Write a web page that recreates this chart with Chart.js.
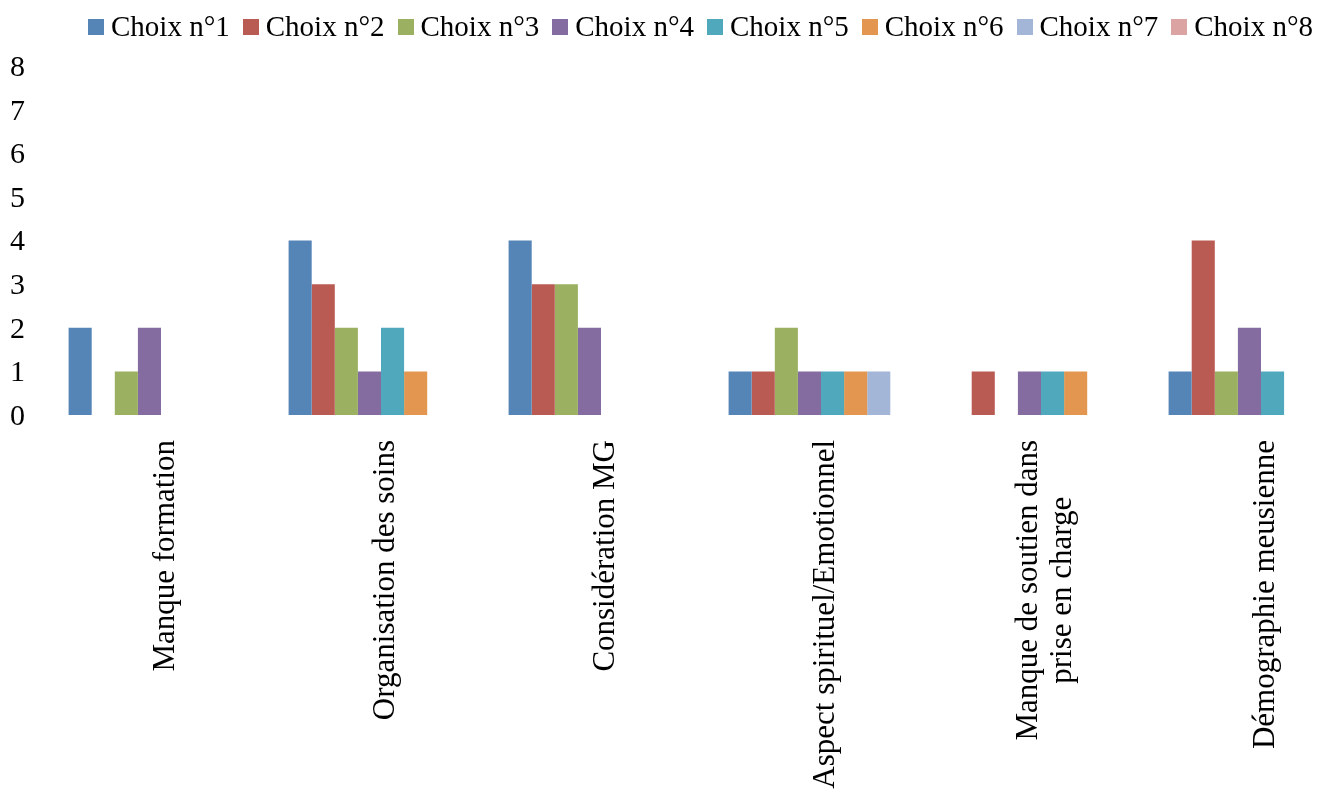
<!DOCTYPE html>
<html lang="fr">
<head>
<meta charset="utf-8">
<title>Choix</title>
<script src="https://cdn.jsdelivr.net/npm/chart.js@4/dist/chart.umd.min.js"></script>
<style>
  html, body {
    margin: 0;
    padding: 0;
    background: #ffffff;
    overflow: hidden;
  }
  body {
    position: relative;
    width: 1317px;
    height: 798px;
  }
  .bar-chart {
    position: absolute;
    left: 0;
    top: 0;
    width: 1371px;
    height: 798px;
  }
  .bar-chart__legend {
    position: absolute;
    top: 10px;
    right: 4px;
    display: flex;
    align-items: center;
    font-family: 'Liberation Serif', serif;
    font-size: 29px;
    color: #000000;
    white-space: nowrap;
  }
  .bar-chart__item {
    display: flex;
    align-items: center;
    margin-left: 13px;
  }
  .bar-chart__item:first-child {
    margin-left: 0;
  }
  .bar-chart__box {
    width: 16px;
    height: 16px;
    margin-right: 7px;
  }
</style>
</head>
<body>
<div class="bar-chart">
  <canvas width="1371" height="798"></canvas>
</div>
<script>
const categories = [
  'Manque formation',
  'Organisation des soins',
  'Considération MG',
  'Aspect spirituel/Emotionnel',
  ['Manque de soutien dans', 'prise en charge'],
  'Démographie meusienne'
]
const seriesNames = ['Choix n°1', 'Choix n°2', 'Choix n°3', 'Choix n°4', 'Choix n°5', 'Choix n°6', 'Choix n°7', 'Choix n°8']
const choix1 = [2, 4, 4, 1, 0, 1]
const choix2 = [0, 3, 3, 1, 1, 4]
const choix3 = [1, 2, 3, 2, 0, 1]
const choix4 = [2, 1, 2, 1, 1, 2]
const choix5 = [0, 2, 0, 1, 1, 1]
const choix6 = [0, 1, 0, 1, 1, 0]
const choix7 = [0, 0, 0, 1, 0, 0]
const choix8 = [0, 0, 0, 0, 0, 0]
const yTicks = [0, 1, 2, 3, 4, 5, 6, 7, 8]

const seriesValues = [choix1, choix2, choix3, choix4, choix5, choix6, choix7, choix8]
const colors = ['#5584B7', '#B95B53', '#9BB061', '#846CA0', '#4FA8BC', '#E3964F', '#A3B6D8', '#DBA3A2']
const fontFamily = '\'Liberation Serif\', serif'

const holder = document.querySelector('.bar-chart')
const canvas = holder.querySelector('canvas')

function buildLegend() {
  let legendElement = document.querySelector('.bar-chart__legend')
  if (legendElement) {
    legendElement.innerHTML = ''
  } else {
    legendElement = document.createElement('div')
    legendElement.className = 'bar-chart__legend'
    document.body.append(legendElement)
  }
  seriesNames.forEach((name, i) => {
    const item = document.createElement('div')
    item.className = 'bar-chart__item'
    const box = document.createElement('span')
    box.className = 'bar-chart__box'
    box.style.background = colors[i]
    const text = document.createElement('span')
    text.textContent = name
    item.append(box, text)
    legendElement.append(item)
  })
}

// rotated category labels, multi-line ones centred on each other
const xLabelPlugin = {
  id: 'xLabels',
  afterDraw(chart) {
    const ctx = chart.ctx
    const scale = chart.scales.x
    const lineHeight = 34
    ctx.save()
    ctx.font = `31px ${fontFamily}`
    ctx.fillStyle = '#000000'
    ctx.textAlign = 'center'
    ctx.textBaseline = 'middle'
    categories.forEach((label, i) => {
      const lines = [].concat(label)
      const blockWidth = Math.max(...lines.map(l => ctx.measureText(l).width))
      ctx.save()
      ctx.translate(scale.getPixelForTick(i) + 5, scale.top + 25)
      ctx.rotate(-Math.PI / 2)
      lines.forEach((line, j) => {
        ctx.fillText(line, -blockWidth / 2, (j - (lines.length - 1) / 2) * lineHeight)
      })
      ctx.restore()
    })
    ctx.restore()
  }
}

const chart = new Chart(canvas, {
  type: 'bar',
  data: {
    labels: categories,
    datasets: seriesNames.map((name, i) => ({
      label: name,
      data: seriesValues[i],
      backgroundColor: colors[i],
      borderWidth: 0,
      categoryPercentage: 0.84,
      barPercentage: 1
    }))
  },
  options: {
    responsive: false,
    animation: false,
    layout: {
      padding: { top: 66, left: 0, right: 0, bottom: 0 }
    },
    scales: {
      x: {
        grid: { display: false, drawTicks: false },
        border: { display: false },
        afterFit: (axis) => {
          axis.height = 383
        },
        ticks: {
          display: false,
          autoSkip: false
        }
      },
      y: {
        min: 0,
        max: 8,
        grid: { display: false, drawTicks: false },
        border: { display: false },
        afterFit: (axis) => {
          axis.width = 51
        },
        afterBuildTicks: (axis) => {
          axis.ticks = yTicks.map(v => ({ value: v }))
        },
        ticks: {
          padding: 26,
          labelOffset: 2,
          color: '#000000',
          font: { family: fontFamily, size: 30 }
        }
      }
    },
    plugins: {
      legend: { display: false },
      tooltip: { enabled: false }
    }
  },
  plugins: [{ afterUpdate: buildLegend }, xLabelPlugin]
})
</script>
</body>
</html>
